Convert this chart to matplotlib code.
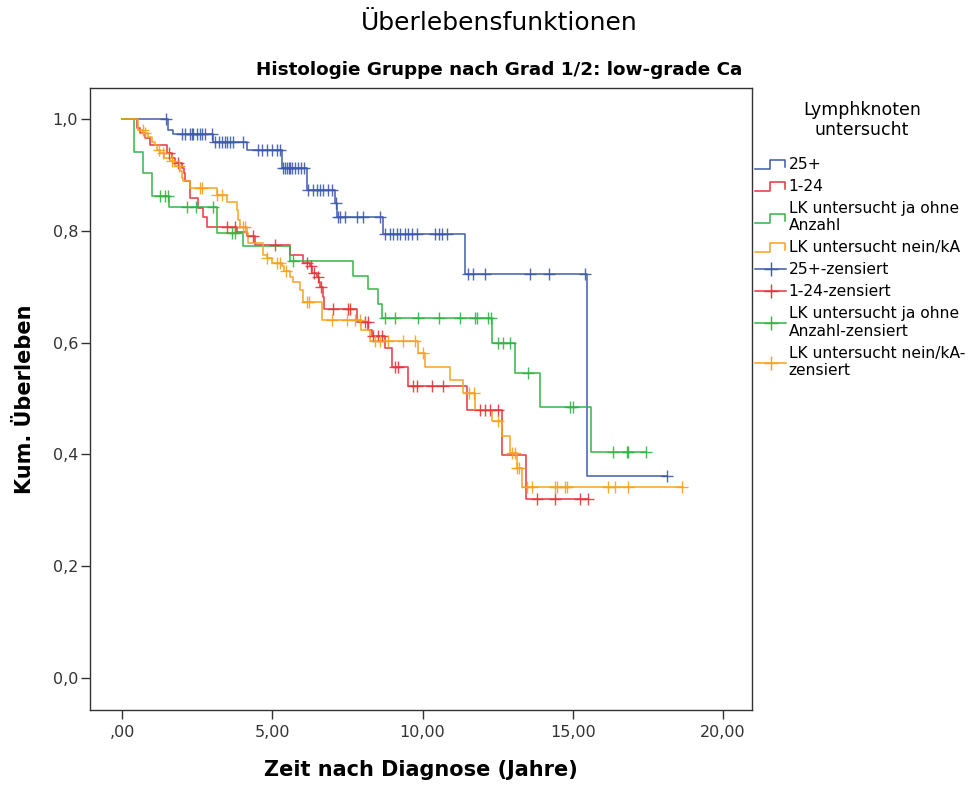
import matplotlib

matplotlib.use("Agg")
import matplotlib.pyplot as plt
import numpy as np
from matplotlib.legend_handler import HandlerBase
from matplotlib.lines import Line2D

plt.rcParams["font.family"] = ["DejaVu Sans"]

# Kaplan-Meier steps: event times (years) and survival after each step
blue_t = [1.53, 1.70, 3.03, 4.15, 5.31, 6.15, 7.09, 7.14, 8.69, 11.41, 15.46]
blue_s = [0.980, 0.973, 0.959, 0.944, 0.912, 0.873, 0.850, 0.825, 0.794, 0.722, 0.362]
blue_cens = [1.45, 1.99, 2.10, 2.26, 2.32, 2.37, 2.49, 2.60, 2.65, 2.76, 2.98,
             3.09, 3.21, 3.32, 3.43, 3.48, 3.59, 3.70, 4.04, 4.54, 4.65, 4.82,
             4.98, 5.15, 5.26, 5.35, 5.42, 5.50, 5.55, 5.60, 5.65, 5.75, 5.85,
             5.95, 6.05, 6.20, 6.35, 6.50, 6.60, 6.70, 6.85, 7.00, 7.11, 7.18,
             7.25, 7.42, 7.81, 8.03, 8.59, 8.75, 8.92, 9.03, 9.14, 9.25, 9.42,
             9.53, 9.64, 9.81, 10.42, 10.53, 10.64, 10.80, 11.52, 11.69, 12.08,
             13.58, 14.19, 15.41, 18.13]

red_t = [0.49, 0.60, 0.77, 0.93, 1.49, 1.65, 1.76, 1.99, 2.05, 2.10, 2.26, 2.54,
         2.71, 2.82, 3.82, 4.15, 4.43, 5.59, 6.03, 6.25, 6.31, 6.48, 6.54, 6.59,
         6.70, 6.73, 7.81, 8.20, 8.30, 8.75, 8.97, 9.53, 11.47, 12.65, 13.44]
red_s = [0.984, 0.974, 0.965, 0.953, 0.939, 0.930, 0.921, 0.912, 0.903, 0.888,
         0.858, 0.840, 0.825, 0.807, 0.798, 0.790, 0.775, 0.757, 0.742, 0.736,
         0.724, 0.718, 0.709, 0.700, 0.682, 0.660, 0.637, 0.623, 0.611, 0.590,
         0.556, 0.522, 0.479, 0.399, 0.320]
red_cens = [1.55, 1.85, 3.49, 3.76, 4.37, 5.09, 6.15, 6.28, 6.40, 6.52, 6.62,
            7.03, 7.53, 7.60, 8.09, 8.18, 8.35, 8.53, 8.64, 9.08, 9.19, 9.69,
            9.80, 10.30, 10.69, 11.91, 12.08, 12.25, 12.52, 13.82, 14.41, 15.24,
            15.50]

green_t = [0.41, 0.71, 1.01, 1.56, 3.15, 4.04, 5.59, 7.70, 8.20, 8.50, 8.64,
           12.30, 13.08, 13.91, 15.60]
green_s = [0.941, 0.903, 0.862, 0.842, 0.795, 0.772, 0.746, 0.719, 0.695, 0.669,
           0.643, 0.600, 0.546, 0.485, 0.404]
green_cens = [1.26, 1.43, 1.54, 2.15, 2.46, 3.04, 3.65, 3.76, 5.70, 8.75, 9.08,
              9.86, 10.53, 11.25, 11.75, 11.80, 12.19, 12.27, 12.52, 12.69,
              12.91, 13.52, 14.91, 15.00, 16.33, 16.79, 16.85, 17.44]

orange_t = [0.54, 0.71, 0.88, 0.99, 1.10, 1.15, 1.26, 1.40, 1.60, 1.76, 1.93,
            1.99, 2.04, 2.26, 3.15, 3.48, 3.82, 3.87, 3.92, 4.15, 4.20, 4.70,
            4.82, 4.98, 5.31, 5.38, 5.59, 5.70, 5.92, 6.03, 6.65, 7.95, 8.25,
            9.86, 10.08, 10.91, 11.36, 11.75, 12.30, 12.63, 12.91, 13.13, 13.30]
orange_s = [0.980, 0.974, 0.968, 0.959, 0.953, 0.945, 0.939, 0.930, 0.924,
            0.915, 0.906, 0.894, 0.888, 0.876, 0.864, 0.852, 0.837, 0.819,
            0.807, 0.795, 0.778, 0.757, 0.751, 0.742, 0.736, 0.727, 0.718,
            0.709, 0.694, 0.673, 0.640, 0.623, 0.602, 0.581, 0.557, 0.533,
            0.509, 0.479, 0.459, 0.432, 0.402, 0.375, 0.341]
orange_cens = [0.70, 0.76, 1.22, 1.35, 1.65, 1.88, 2.60, 2.66, 3.15, 3.32,
               4.02, 4.10, 4.82, 5.15, 5.26, 5.45, 6.15, 6.21, 6.98, 7.48, 7.75,
               7.92, 8.42, 8.59, 8.86, 9.36, 9.75, 10.00, 11.55, 11.70, 12.50,
               12.98, 13.08, 13.15, 13.20, 13.47, 13.63, 14.41, 14.47, 14.74,
               14.80, 16.18, 16.41, 16.82, 18.63]

labels = ["25+", "1-24", "LK untersucht ja ohne\nAnzahl", "LK untersucht nein/kA"]
cens_labels = ["25+-zensiert", "1-24-zensiert",
               "LK untersucht ja ohne\nAnzahl-zensiert",
               "LK untersucht nein/kA-\nzensiert"]
colors = ["#3d59ab", "#e8333a", "#30b443", "#f9a11d"]

groups = [
    (blue_t, blue_s, blue_cens),
    (red_t, red_s, red_cens),
    (green_t, green_s, green_cens),
    (orange_t, orange_s, orange_cens),
]


class StepHandler(HandlerBase):
    # small step icon like the SPSS legend
    def create_artists(self, legend, orig_handle, xdescent, ydescent,
                       width, height, fontsize, trans):
        w, h = width, height
        xs = np.array([0, 0.48, 0.48, 0.97, 0.97]) * w - xdescent
        ys = np.array([0.0, 0.0, 0.85, 0.85, 0.2]) * h - ydescent
        line = Line2D(xs, ys, color=orig_handle.get_color(), lw=1.1)
        line.set_transform(trans)
        return [line]


fig = plt.figure(figsize=(9.72, 7.85), dpi=100)
ax = fig.add_axes([0.0926, 0.0955, 0.6811, 0.7924])

step_handles = []
cens_handles = []
for (t, s, cens), color in zip(groups, colors):
    cens = np.asarray(cens)
    xs = np.r_[0.0, t, cens.max()]
    ys = np.r_[1.0, s, s[-1]]
    (ln,) = ax.step(xs, ys, where="post", color=color, lw=1.2, alpha=0.9)
    step_handles.append(ln)

for (t, s, cens), color in zip(groups, colors):
    s_all = np.r_[1.0, s]
    idx = np.searchsorted(t, cens, side="right")
    ax.plot(cens, s_all[idx], linestyle="none", marker="+", ms=8, mew=1.0,
            color=color, alpha=0.9)
    cens_handles.append(Line2D([], [], color=color, marker="+", ms=10,
                               mew=1.0, lw=1.1))

ax.set_xlim(-1.065, 20.96)
ax.set_ylim(-0.057, 1.055)
ax.set_xticks([0, 5, 10, 15, 20])
ax.set_xticklabels([",00", "5,00", "10,00", "15,00", "20,00"])
ax.set_yticks([0, 0.2, 0.4, 0.6, 0.8, 1.0])
ax.set_yticklabels(["0,0", "0,2", "0,4", "0,6", "0,8", "1,0"])
ax.tick_params(direction="out", length=6.5, width=1.0, color="#333333",
               labelsize=11.5, labelcolor="#333333")
ax.tick_params(axis="x", pad=4)
ax.tick_params(axis="y", pad=2)
for sp in ax.spines.values():
    sp.set_color("#333333")
    sp.set_linewidth(1.0)

ax.set_xlabel("Zeit nach Diagnose (Jahre)", fontsize=15, fontweight="bold",
              labelpad=15)
ax.set_ylabel("Kum. Überleben", fontsize=15, fontweight="bold", labelpad=13)

fig.text(0.514, 0.971, "Überlebensfunktionen", ha="center", va="center",
         fontsize=18)
fig.text(0.514, 0.911, "Histologie Gruppe nach Grad 1/2: low-grade Ca",
         ha="center", va="center", fontsize=13.2, fontweight="bold")

fig.text(0.887, 0.847, "Lymphknoten\nuntersucht", ha="center", va="center",
         multialignment="center", fontsize=12.5, linespacing=1.1)

fig.legend(step_handles + cens_handles, labels + cens_labels,
           loc="upper left", bbox_to_anchor=(0.777, 0.800),
           frameon=False, fontsize=11.2, handlelength=2.0,
           handletextpad=0.15, labelspacing=0.45, borderpad=0.0,
           borderaxespad=0.0,
           handler_map={h: StepHandler() for h in step_handles})

fig.savefig("out.png", dpi=100)
